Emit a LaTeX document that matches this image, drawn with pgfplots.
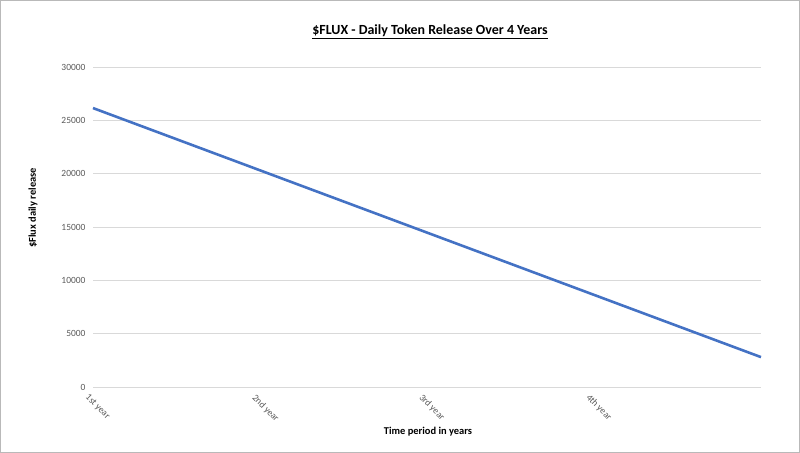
\documentclass[border=0pt]{standalone}
\usepackage{pgfplots}
\pgfplotsset{compat=1.18}
\usepackage{fontspec}
\setmainfont{Carlito}
\definecolor{linecol}{HTML}{4472C4}
\definecolor{ticktext}{HTML}{595959}
\definecolor{gridcol}{HTML}{D9D9D9}
\begin{document}
\begin{tikzpicture}[x=1bp,y=1bp]
\useasboundingbox (0,0) rectangle (800,453);
\draw[line width=1bp, color=gray!55] (0.5,0.5) rectangle (799.5,452.5);
\begin{axis}[
  at={(93bp,66bp)}, anchor=south west,
  scale only axis,
  width=668bp, height=320bp,
  xmin=0, xmax=4,
  ymin=0, ymax=30000,
  ytick={0,5000,10000,15000,20000,25000,30000},
  scaled y ticks=false,
  xtick={0,1,2,3},
  xticklabels={1st year, 2nd year, 3rd year, 4th year},
  axis line style={draw=none},
  major tick length=0pt,
  ymajorgrids,
  grid style={line width=0.75bp, draw=gridcol},
  /pgf/number format/assume math mode=true,
  /pgf/number format/1000 sep={},
  tick label style={font=\fontsize{9.5}{11}\selectfont, text=ticktext},
  yticklabel style={xshift=-4bp},
  xticklabel style={rotate=-45, anchor=north west, inner sep=1pt, xshift=1bp, yshift=-6bp},
  clip=false,
]
\addplot[color=linecol, line width=2.6bp] coordinates {
  (0,26150) (1,20312) (2,14475) (3,8637) (4,2800)
};
\end{axis}
\node[font=\bfseries\fontsize{14}{17}\selectfont] at (430,421) {\underline{\$FLUX - Daily Token Release Over 4 Years}};
\node[font=\bfseries\fontsize{10.5}{12}\selectfont, rotate=90] at (33,245) {\$Flux daily release};
\node[font=\bfseries\fontsize{10.5}{12}\selectfont] at (428,21) {Time period in years};
\end{tikzpicture}
\end{document}
